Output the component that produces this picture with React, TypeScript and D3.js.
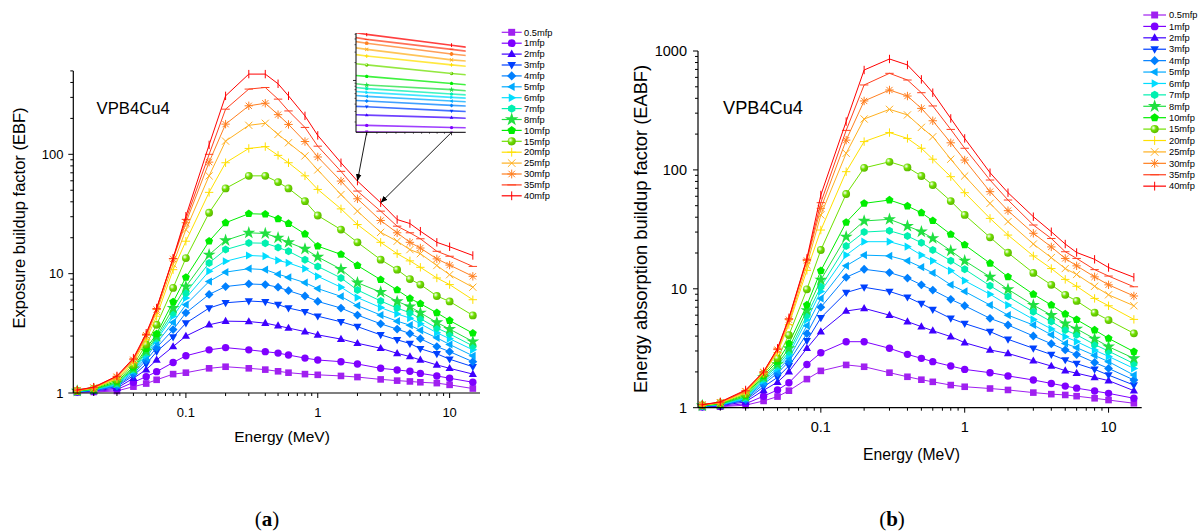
import React from 'react';
import * as d3 from 'd3';

// ---------------- DATA ----------------
const energies = [0.015, 0.02, 0.03, 0.04, 0.05, 0.06, 0.08, 0.1, 0.15, 0.2, 0.3, 0.4, 0.5, 0.6, 0.8, 1, 1.5, 2, 3, 4, 5, 6, 8, 10, 15];
const seriesNames = ['0.5mfp', '1mfp', '2mfp', '3mfp', '4mfp', '5mfp', '6mfp', '7mfp', '8mfp', '10mfp', '15mfp', '20mfp', '25mfp', '30mfp', '35mfp', '40mfp'];
const seriesColors = ['#A020F0', '#7F00FF', '#3F00FF', '#0040FF', '#0080FF', '#00AAFF', '#00DDFF', '#00F0B0', '#20E040', '#00EE00', '#70E000', '#FFE000', '#FFB020', '#FF7F20', '#FF4020', '#FF0000'];
const seriesSymbols = ['square', 'circle', 'triUp', 'triDown', 'diamond', 'triLeft', 'triRight', 'hexagon', 'star', 'pentagon', 'sphere', 'plus', 'cross', 'asterisk', 'hbar', 'vbar'];

// Exposure buildup factor (panel a)
const ebf0_5 = [1.01, 1.02, 1.04, 1.13, 1.2, 1.29, 1.44, 1.48, 1.61, 1.66, 1.61, 1.57, 1.52, 1.48, 1.44, 1.42, 1.39, 1.36, 1.30, 1.27, 1.25, 1.23, 1.21, 1.17, 1.09];
const ebf1 = [1.02, 1.03, 1.07, 1.23, 1.37, 1.51, 1.80, 2.05, 2.30, 2.40, 2.30, 2.22, 2.16, 2.08, 1.96, 1.89, 1.83, 1.75, 1.61, 1.56, 1.52, 1.46, 1.39, 1.33, 1.23];
const ebf2 = [1.02, 1.04, 1.1, 1.33, 1.57, 1.89, 2.45, 3.0, 3.73, 4.0, 3.97, 3.85, 3.66, 3.5, 3.27, 3.07, 2.83, 2.61, 2.37, 2.15, 2.02, 1.89, 1.72, 1.61, 1.44];
const ebf3 = [1.02, 1.05, 1.13, 1.4, 1.75, 2.22, 2.94, 3.85, 5.15, 5.7, 5.9, 5.8, 5.5, 5.15, 4.8, 4.4, 3.95, 3.6, 3.07, 2.79, 2.6, 2.35, 2.13, 1.92, 1.66];
const ebf4 = [1.03, 1.05, 1.15, 1.45, 1.88, 2.4, 3.4, 4.7, 6.7, 7.8, 8.2, 8.1, 7.7, 7.2, 6.5, 5.85, 5.15, 4.5, 3.8, 3.43, 3.15, 2.85, 2.45, 2.22, 1.83];
const ebf5 = [1.03, 1.06, 1.17, 1.5, 1.98, 2.62, 3.9, 5.5, 8.6, 10.3, 11.0, 10.8, 9.9, 9.3, 8.4, 7.5, 6.45, 5.4, 4.5, 4.0, 3.7, 3.35, 2.9, 2.55, 2.05];
const ebf6 = [1.03, 1.06, 1.19, 1.54, 2.08, 2.78, 4.4, 6.25, 10.5, 12.7, 14.2, 14.0, 12.9, 12.3, 11.0, 9.5, 7.7, 6.3, 5.2, 4.6, 4.24, 3.8, 3.2, 2.85, 2.3];
const ebf7 = [1.04, 1.07, 1.2, 1.57, 2.17, 2.88, 4.7, 6.9, 12.3, 15.9, 18.1, 18.0, 16.6, 15.4, 13.1, 11.5, 9.2, 7.3, 5.9, 5.15, 4.7, 4.2, 3.5, 3.13, 2.48];
const ebf8 = [1.04, 1.07, 1.22, 1.6, 2.25, 2.98, 5.15, 7.8, 14.4, 19.0, 22.0, 21.7, 20.0, 18.3, 16.1, 13.8, 10.9, 8.4, 7.0, 5.85, 5.3, 4.7, 3.9, 3.43, 2.7];
const ebf10 = [1.04, 1.08, 1.25, 1.65, 2.35, 3.13, 5.8, 9.3, 18.7, 26.7, 31.8, 31.5, 28.8, 26.3, 21.5, 17.0, 14.5, 11.7, 8.9, 7.3, 6.2, 5.6, 4.7, 4.05, 3.17];
const ebf15 = [1.04, 1.09, 1.29, 1.72, 2.55, 3.73, 7.6, 13.5, 32.4, 51.8, 66, 66, 58.5, 51.8, 40.5, 30.7, 23.4, 18.3, 13.1, 10.8, 9.0, 8.1, 6.5, 5.85, 4.47];
const ebf20 = [1.05, 1.1, 1.32, 1.8, 2.8, 4.4, 10.8, 18.7, 48, 85, 112, 116, 98, 85, 66, 50.8, 34.9, 25.8, 18.3, 14.7, 12.8, 11.3, 9.2, 8.1, 6.05];
const ebf25 = [1.05, 1.1, 1.35, 1.86, 2.95, 4.8, 12.0, 23.4, 66, 129, 175, 182, 147, 125, 97, 74, 46, 33.4, 22.2, 18.7, 15.9, 14.7, 11.7, 9.8, 7.7];
const ebf30 = [1.05, 1.11, 1.37, 1.9, 3.05, 5.0, 13.3, 26.7, 86, 179, 255, 268, 215, 178, 128, 95, 59.7, 42.4, 27.9, 22, 18.3, 16.4, 13.3, 11.8, 9.5];
const ebf35 = [1.06, 1.11, 1.38, 1.93, 3.1, 5.1, 13.4, 28.5, 100, 239, 352, 363, 290, 231, 168, 117, 72, 49.2, 33.4, 25, 22, 19.6, 15.4, 14, 11.5];
const ebf40 = [1.06, 1.12, 1.39, 1.96, 3.17, 5.15, 13.5, 30.3, 120, 309, 470, 470, 390, 309, 210, 144, 85, 59.7, 39.3, 28.4, 26.3, 22.7, 18.3, 16.8, 14.2];
const ebfSeries = [ebf0_5, ebf1, ebf2, ebf3, ebf4, ebf5, ebf6, ebf7, ebf8, ebf10, ebf15, ebf20, ebf25, ebf30, ebf35, ebf40];

// Energy absorption buildup factor (panel b)
const eabf0_5 = [1.01, 1.02, 1.05, 1.14, 1.24, 1.39, 1.74, 2.04, 2.29, 2.21, 1.97, 1.82, 1.72, 1.65, 1.55, 1.5, 1.45, 1.41, 1.34, 1.3, 1.28, 1.25, 1.2, 1.16, 1.09];
const eabf1 = [1.02, 1.03, 1.08, 1.25, 1.41, 1.62, 2.31, 2.9, 3.59, 3.59, 3.16, 2.81, 2.6, 2.44, 2.24, 2.1, 1.97, 1.85, 1.71, 1.6, 1.52, 1.46, 1.38, 1.32, 1.2];
const eabf2 = [1.02, 1.04, 1.12, 1.4, 1.64, 2.01, 3.16, 4.36, 6.5, 6.85, 6.0, 5.3, 4.8, 4.44, 3.96, 3.52, 3.06, 2.86, 2.48, 2.24, 2.05, 1.95, 1.8, 1.69, 1.39];
const eabf3 = [1.02, 1.05, 1.15, 1.5, 1.8, 2.25, 3.66, 5.7, 9.3, 10.3, 9.5, 8.5, 7.5, 6.7, 5.64, 5.1, 4.36, 3.76, 3.16, 2.8, 2.52, 2.35, 2.1, 1.88, 1.55];
const eabf4 = [1.03, 1.05, 1.17, 1.58, 1.95, 2.45, 4.2, 7.0, 12.5, 14.6, 13.7, 12.3, 10.8, 9.76, 8.15, 7.2, 5.64, 4.96, 4.01, 3.45, 3.06, 2.8, 2.4, 2.14, 1.71];
const eabf5 = [1.03, 1.06, 1.19, 1.64, 2.05, 2.6, 4.9, 8.3, 15.6, 19.2, 18.9, 17.2, 15.2, 13.6, 10.8, 9.5, 7.3, 6.0, 4.96, 4.1, 3.47, 3.2, 2.75, 2.44, 1.88];
const eabf6 = [1.03, 1.06, 1.2, 1.7, 2.15, 2.79, 5.5, 9.5, 19.2, 24.9, 24.9, 22.6, 19.2, 17.2, 14.2, 11.7, 9.0, 7.3, 5.53, 4.6, 3.96, 3.6, 3.05, 2.7, 2.14];
const eabf7 = [1.04, 1.07, 1.22, 1.75, 2.25, 2.95, 6.0, 10.4, 22.9, 30, 30.8, 27.8, 24.4, 21.2, 17.2, 14.6, 10.6, 8.6, 6.42, 5.3, 4.5, 4.1, 3.4, 2.99, 2.35];
const eabf8 = [1.04, 1.07, 1.24, 1.8, 2.32, 3.16, 6.6, 11.9, 27.4, 37.2, 38.4, 33.7, 30.2, 26.6, 20.9, 17.2, 12.6, 9.9, 7.3, 6.0, 5.1, 4.6, 3.8, 3.26, 2.6];
const eabf10 = [1.04, 1.08, 1.27, 1.86, 2.45, 3.47, 7.3, 14.2, 36.2, 52.3, 55.8, 49.7, 43.6, 37.4, 28.7, 23.4, 16.4, 12.6, 9.0, 7.3, 6.13, 5.5, 4.5, 3.83, 2.96];
const eabf15 = [1.05, 1.09, 1.3, 1.92, 2.6, 4.08, 9.9, 21.2, 62.7, 104, 117, 105, 88.9, 74.6, 54.7, 41.8, 27.1, 20.1, 13.6, 10.8, 8.9, 7.9, 6.3, 5.46, 4.22];
const eabf20 = [1.05, 1.1, 1.33, 1.95, 2.9, 5.0, 14.3, 31.2, 96.6, 173, 206, 184, 152, 123, 87.7, 64.3, 39.1, 28.3, 18.9, 14.8, 12.0, 10.5, 8.3, 7.2, 5.53];
const eabf25 = [1.05, 1.1, 1.36, 1.97, 3.0, 5.2, 15.8, 41.8, 138, 268, 323, 290, 228, 190, 123, 88.9, 52.3, 36.7, 23.8, 18.3, 14.8, 13.2, 10.5, 8.9, 7.2];
const eabf30 = [1.06, 1.11, 1.38, 1.99, 3.08, 5.5, 17.3, 47.5, 178, 380, 470, 418, 329, 259, 169, 121, 65.6, 45.4, 29.3, 22.5, 18.0, 15.6, 12.6, 10.8, 8.7];
const eabf35 = [1.06, 1.11, 1.39, 2.0, 3.12, 5.6, 17.7, 53, 215, 518, 649, 570, 446, 345, 219, 152, 82.2, 55.8, 34.4, 26.5, 20.5, 18.0, 14.5, 12.8, 10.4];
const eabf40 = [1.06, 1.12, 1.41, 2.01, 3.16, 5.7, 18, 61.5, 255, 692, 857, 763, 577, 446, 271, 184, 94.7, 64.3, 40.4, 30.2, 23.8, 20.2, 17.7, 15.1, 12.5];
const eabfSeries = [eabf0_5, eabf1, eabf2, eabf3, eabf4, eabf5, eabf6, eabf7, eabf8, eabf10, eabf15, eabf20, eabf25, eabf30, eabf35, eabf40];

const xTickValues = [0.1, 1, 10];
const yTickValuesA = [1, 10, 100];
const yTickValuesB = [1, 10, 100, 1000];
const insetEnergies = [2, 3];
const arrowEnergies = [2, 3];

const FONT = 'Liberation Sans, Arial, Helvetica, sans-serif';

// ---------------- SYMBOLS ----------------
function polyPath(n: number, r: number, rot: number) {
  const pts: string[] = [];
  for (let i = 0; i < n; i++) {
    const a = rot + (i * 2 * Math.PI) / n;
    pts.push(`${(r * Math.cos(a)).toFixed(2)},${(r * Math.sin(a)).toFixed(2)}`);
  }
  return 'M' + pts.join('L') + 'Z';
}
const starPath = d3.symbol().type(d3.symbolStar).size(52)() as string;

function Sym({ kind, x, y, color, s = 1, idx }: { kind: string; x: number; y: number; color: string; s?: number; idx: number }) {
  const t = `translate(${x},${y}) scale(${s})`;
  const lw = 1 / s;
  switch (kind) {
    case 'square':
      return <rect x={-3.3} y={-3.3} width={6.6} height={6.6} fill={color} transform={t} />;
    case 'circle':
      return <circle r={3.7} fill={color} transform={t} />;
    case 'triUp':
      return <path d="M0,-4.4L4.1,2.8L-4.1,2.8Z" fill={color} transform={t} />;
    case 'triDown':
      return <path d="M0,4.4L4.1,-2.8L-4.1,-2.8Z" fill={color} transform={t} />;
    case 'diamond':
      return <path d="M0,-4.4L4.4,0L0,4.4L-4.4,0Z" fill={color} transform={t} />;
    case 'triLeft':
      return <path d="M-4.4,0L2.8,-4.1L2.8,4.1Z" fill={color} transform={t} />;
    case 'triRight':
      return <path d="M4.4,0L-2.8,-4.1L-2.8,4.1Z" fill={color} transform={t} />;
    case 'hexagon':
      return <path d={polyPath(6, 4, Math.PI / 6)} fill={color} transform={t} />;
    case 'star':
      return <path d={starPath} fill={color} transform={t} />;
    case 'pentagon':
      return <path d={polyPath(5, 4.2, -Math.PI / 2)} fill={color} transform={t} />;
    case 'sphere':
      return <circle r={3.9} fill={`url(#sph${idx})`} transform={t} />;
    case 'plus':
      return <path d="M-4.2,0H4.2M0,-4.2V4.2" stroke={color} strokeWidth={lw} fill="none" transform={t} />;
    case 'cross':
      return <path d="M-3.6,-3.6L3.6,3.6M-3.6,3.6L3.6,-3.6" stroke={color} strokeWidth={lw} fill="none" transform={t} />;
    case 'asterisk':
      return <path d="M-4.2,0H4.2M0,-4.2V4.2M-3.1,-3.1L3.1,3.1M-3.1,3.1L3.1,-3.1" stroke={color} strokeWidth={lw} fill="none" transform={t} />;
    case 'hbar':
      return <path d="M-4.2,0H4.2" stroke={color} strokeWidth={lw} fill="none" transform={t} />;
    case 'vbar':
      return <path d="M0,-4.2V4.2" stroke={color} strokeWidth={lw} fill="none" transform={t} />;
  }
  return null;
}

function minorTicks(domain: [number, number]) {
  const out: number[] = [];
  for (let e = -3; e <= 3; e++) {
    const base = Math.pow(10, e);
    for (let m = 2; m <= 9; m++) {
      const v = m * base;
      if (v >= domain[0] * 0.999 && v <= domain[1] * 1.001) out.push(v);
    }
  }
  return out;
}

type PanelProps = {
  id: string;
  series: number[][];
  xRange: [number, number];
  yRange: [number, number];
  yDomain: [number, number];
  yTicks: number[];
  tickFont: number;
  xTickBaseline: number;
  yTickEnd: number;
  xLabel: { x: number; y: number; size: number };
  yLabel: { x: number; y: number; size: number; text: string };
  tag: { x: number; y: number; size: number };
  legend: { x1: number; x2: number; tx: number; y0: number; dy: number; size: number };
  inset?: boolean;
};

const xDomain: [number, number] = [0.014, 17];

function Panel(p: PanelProps) {
  const x = d3.scaleLog().domain(xDomain).range(p.xRange);
  const y = d3.scaleLog().domain(p.yDomain).range(p.yRange);
  const line = d3.line<[number, number]>().x(d => x(d[0])).y(d => y(d[1]));
  const x0 = p.xRange[0];
  const yb = p.yRange[0];
  const xMinor = minorTicks(xDomain);
  const yMinor = minorTicks(p.yDomain);

  let insetEl: React.ReactNode = null;
  if (p.inset) {
    const ix = d3.scaleLog().domain([1.9, 3.21]).range([356, 465.7]);
    const iy = d3.scaleLog().domain([1.34, 63]).range([132.3, 33]);
    const iline = d3.line<[number, number]>().x(d => ix(d[0])).y(d => iy(d[1]));
    const idom: [number, number] = [1.34, 63];
    const ixMinor = d3.range(1, 10).map(i => 2 + i * 0.1);
    const s40 = p.series[p.series.length - 1];
    insetEl = (
      <g>
        <defs>
          <clipPath id="insetClip">
            <rect x={356} y={33} width={109.7} height={99.3} />
          </clipPath>
          <marker id="arrowHead" viewBox="0 0 10 10" refX={10} refY={5} markerWidth={7} markerHeight={7} orient="auto" markerUnits="userSpaceOnUse">
            <path d="M0,1L10,5L0,9Z" fill="#000" />
          </marker>
        </defs>
        <rect x={356} y={33} width={109.7} height={99.3} fill="#fff" />
        <g clipPath="url(#insetClip)">
          {p.series.map((vals, i) => (
            <g key={i}>
              <path d={iline(energies.map((e, k) => [e, vals[k]] as [number, number])) || ''} fill="none" stroke={seriesColors[i]} strokeWidth={1.6} strokeOpacity={0.75} />
              {insetEnergies.map(e => {
                const k = energies.indexOf(e);
                return <Sym key={e} kind={seriesSymbols[i]} x={ix(e)} y={iy(vals[k])} color={seriesColors[i]} s={0.45} idx={i} />;
              })}
            </g>
          ))}
        </g>
        <line x1={356} x2={356} y1={33} y2={132.3} stroke="#000" strokeWidth={1} />
        <line x1={356} x2={465.7} y1={132.3} y2={132.3} stroke="#000" strokeWidth={1} />
        {minorTicks(idom).map(v => (
          <line key={'iym' + v} x1={356} x2={354.5} y1={iy(v)} y2={iy(v)} stroke="#000" strokeWidth={0.6} />
        ))}
        <line x1={356} x2={353} y1={iy(10)} y2={iy(10)} stroke="#000" strokeWidth={0.8} />
        {insetEnergies.map(v => (
          <line key={'ixM' + v} x1={ix(v)} x2={ix(v)} y1={132.3} y2={135.3} stroke="#000" strokeWidth={0.8} />
        ))}
        {ixMinor.map(v => (
          <line key={'ixm' + v} x1={ix(v)} x2={ix(v)} y1={132.3} y2={133.8} stroke="#000" strokeWidth={0.6} />
        ))}
        {arrowEnergies.map(e => {
          const k = energies.indexOf(e);
          const xs = ix(e), ys = 132.3;
          const xe = x(e), ye = y(s40[k]);
          return <line key={'arr' + e} x1={xs} y1={ys} x2={xe} y2={ye} stroke="#000" strokeWidth={0.9} markerEnd="url(#arrowHead)" />;
        })}
      </g>
    );
  }

  return (
    <g fontFamily={FONT}>
      <defs>
        {seriesColors.map((c, i) => (
          <radialGradient key={i} id={`sph${i}`} cx="0.35" cy="0.35" r="0.7">
            <stop offset="0" stopColor="#ffffff" />
            <stop offset="0.45" stopColor={c} />
            <stop offset="1" stopColor={d3.color(c)!.darker(0.6).toString()} />
          </radialGradient>
        ))}
      </defs>
      {p.series.map((vals, i) => {
        const pts = energies.map((e, k) => [e, vals[k]] as [number, number]);
        return (
          <g key={i}>
            <path d={line(pts) || ''} fill="none" stroke={seriesColors[i]} strokeWidth={1} />
            {pts.map((d, k) => (
              <Sym key={k} kind={seriesSymbols[i]} x={x(d[0])} y={y(d[1])} color={seriesColors[i]} idx={i} />
            ))}
          </g>
        );
      })}
      <line x1={x0} x2={x0} y1={p.yRange[1]} y2={yb} stroke="#000" strokeWidth={1.2} />
      <line x1={x0} x2={p.xRange[1]} y1={yb} y2={yb} stroke="#000" strokeWidth={1.2} />
      {xTickValues.map(v => (
        <g key={'xt' + v}>
          <line x1={x(v)} x2={x(v)} y1={yb} y2={yb + 5} stroke="#000" strokeWidth={1} />
          <text x={x(v)} y={p.xTickBaseline} textAnchor="middle" fontSize={p.tickFont} fill="#000">{String(v)}</text>
        </g>
      ))}
      {xMinor.map(v => (
        <line key={'xm' + v} x1={x(v)} x2={x(v)} y1={yb} y2={yb + 3} stroke="#000" strokeWidth={1} />
      ))}
      {p.yTicks.map(v => (
        <g key={'yt' + v}>
          <line x1={x0} x2={x0 - 5} y1={y(v)} y2={y(v)} stroke="#000" strokeWidth={1} />
          <text x={p.yTickEnd} y={y(v)} dy="0.35em" textAnchor="end" fontSize={p.tickFont} fill="#000">{String(v)}</text>
        </g>
      ))}
      {yMinor.map(v => (
        <line key={'ym' + v} x1={x0} x2={x0 - 3} y1={y(v)} y2={y(v)} stroke="#000" strokeWidth={1} />
      ))}
      <text x={p.xLabel.x} y={p.xLabel.y} textAnchor="middle" fontSize={p.xLabel.size} fill="#000">Energy (MeV)</text>
      <text transform={`translate(${p.yLabel.x},${p.yLabel.y}) rotate(-90)`} textAnchor="middle" fontSize={p.yLabel.size} fill="#000">{p.yLabel.text}</text>
      <text x={p.tag.x} y={p.tag.y} fontSize={p.tag.size} fill="#000">VPB4Cu4</text>
      {seriesNames.map((n, i) => {
        const ly = p.legend.y0 + i * p.legend.dy;
        const cx = (p.legend.x1 + p.legend.x2) / 2;
        return (
          <g key={'lg' + i}>
            <line x1={p.legend.x1} x2={p.legend.x2} y1={ly} y2={ly} stroke={seriesColors[i]} strokeWidth={1.2} />
            <Sym kind={seriesSymbols[i]} x={cx} y={ly} color={seriesColors[i]} idx={i} s={1.05} />
            <text x={p.legend.tx} y={ly} dy="0.35em" fontSize={p.legend.size} fill="#000">{n}</text>
          </g>
        );
      })}
      {insetEl}
    </g>
  );
}

export default function App() {
  return (
    <svg width={1200} height={531} viewBox="0 0 1200 531" style={{ position: 'absolute', left: 0, top: 0, background: '#fff' }}>
      <rect width={1200} height={531} fill="#fff" />
      <Panel
        id="a"
        series={ebfSeries}
        xRange={[73.3, 480]}
        yRange={[393, 70.9]}
        yDomain={[1, 500]}
        yTicks={yTickValuesA}
        tickFont={13}
        xTickBaseline={416.5}
        yTickEnd={63.5}
        xLabel={{ x: 282, y: 442, size: 15.5 }}
        yLabel={{ x: 25, y: 218, size: 16.5, text: 'Exposure buildup factor (EBF)' }}
        tag={{ x: 96.5, y: 113.5, size: 16.7 }}
        legend={{ x1: 501.7, x2: 521.7, tx: 524, y0: 32.3, dy: 10.9, size: 9.3 }}
        inset
      />
      <Panel
        id="b"
        series={eabfSeries}
        xRange={[698, 1141.7]}
        yRange={[407.7, 51]}
        yDomain={[1, 1000]}
        yTicks={yTickValuesB}
        tickFont={14.5}
        xTickBaseline={431.5}
        yTickEnd={687}
        xLabel={{ x: 911.5, y: 460, size: 15.7 }}
        yLabel={{ x: 647, y: 229, size: 18.3, text: 'Energy absorption buildup factor (EABF)' }}
        tag={{ x: 723, y: 113.5, size: 18.2 }}
        legend={{ x1: 1143.3, x2: 1166, tx: 1169, y0: 15, dy: 11.41, size: 9.3 }}
      />
      <text x={267} y={526} textAnchor="middle" fontFamily="Liberation Serif, Times New Roman, serif" fontSize={21} fill="#000">
        (<tspan fontWeight="bold">a</tspan>)
      </text>
      <text x={892} y={526} textAnchor="middle" fontFamily="Liberation Serif, Times New Roman, serif" fontSize={21} fill="#000">
        (<tspan fontWeight="bold">b</tspan>)
      </text>
    </svg>
  );
}
